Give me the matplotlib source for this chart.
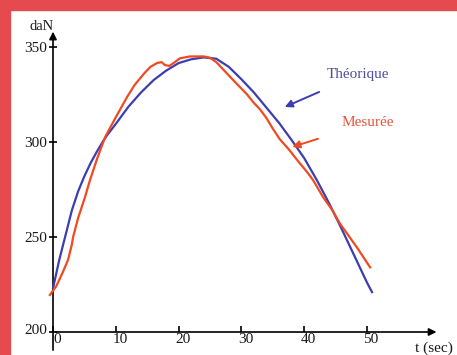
import numpy as np
import matplotlib
matplotlib.use("Agg")
import matplotlib.pyplot as plt
import matplotlib.transforms as mtransforms
from matplotlib.patches import Rectangle

# courbe theorique (bleue)
t_theo = [0, 1, 2, 3, 4, 5, 6, 7, 8, 8.6, 10, 12, 14, 16, 18, 20, 22, 24, 26,
          28, 30, 32, 34, 36, 38, 40, 42, 44, 46, 48, 50, 50.8]
f_theo = [223, 238, 251, 264, 274, 282, 289, 295, 300.5, 303.5, 309.5, 318.5,
          326, 332.5, 337.5, 341.5, 343.5, 344.5, 343.8, 339.5, 333, 326, 318,
          310, 301, 291.5, 280, 267.5, 254, 240, 226, 221]

# courbe mesuree (rouge)
t_mes = [-0.5, 0.5, 1.5, 2.4, 3.0, 3.2, 4, 5, 5.9, 7, 8.3, 10, 11.8, 13, 14.5,
         15.5, 16.6, 17.3, 17.8, 18.5, 19.2, 20.2, 21.8, 24, 25, 26, 27, 28,
         29, 30.9, 32, 33, 34, 35, 36.1, 37.7, 39, 40.5, 41.4, 43, 44.5, 45.7,
         47, 48.5, 50.5]
f_mes = [219.5, 224, 231, 238, 246, 250, 260, 270, 280, 291, 302.6, 313, 323.7,
         330, 336, 339.5, 341.6, 342, 340.5, 340, 341.5, 344, 345, 345, 344.3,
         342, 338.5, 335, 331.5, 325, 320.5, 317, 312.5, 307, 301.5, 295.5, 290,
         284, 280, 271, 264, 257, 251, 244, 234]

xticks = [0, 10, 20, 30, 40, 50]
yticks = [200, 250, 300, 350]

BLUE = "#3d3db2"
RED = "#f04a20"

plt.rcParams['font.family'] = ['Liberation Serif', 'DejaVu Serif']

fig = plt.figure(figsize=(4.57, 3.55), dpi=100)
fig.patch.set_facecolor("white")
# bordure rouge (gauche et haut)
fig.patches.append(Rectangle((0, 0), 10/457, 1, transform=fig.transFigure,
                             color="#e54a4e", zorder=-1))
fig.patches.append(Rectangle((0, 345/355), 1, 10/355, transform=fig.transFigure,
                             color="#e54a4e", zorder=-1))

ax = fig.add_axes([0, 0, 1, 1])
ax.patch.set_alpha(0)
ax.set_xlim(-8.44, 64.33)
ax.set_ylim(187.9, 374.7)

for s in ax.spines.values():
    s.set_visible(False)
ax.spines['left'].set_position(('data', 0))
ax.spines['bottom'].set_position(('data', 200))

# axes avec fleches
ax.annotate('', xy=(61.5, 200), xytext=(0, 200),
            arrowprops=dict(arrowstyle='-|>', color='black', lw=1.2, mutation_scale=11))
ax.annotate('', xy=(0, 359.5), xytext=(0, 189),
            arrowprops=dict(arrowstyle='-|>', color='black', lw=1.2, mutation_scale=11))

ax.set_xticks(xticks)
ax.set_yticks(yticks)
ax.tick_params(axis='x', direction='in', length=4, width=1.2, pad=1,
               labelsize=11, labelcolor='#1a1a1a')
ax.tick_params(axis='y', direction='inout', length=6, width=1.2, pad=1,
               labelsize=11, labelcolor='#1a1a1a')

# petit decalage des etiquettes x vers la droite
shift = mtransforms.ScaledTranslation(4/100, 0, fig.dpi_scale_trans)
for lab in ax.get_xticklabels():
    lab.set_transform(lab.get_transform() + shift)
lift = mtransforms.ScaledTranslation(0, 3/100, fig.dpi_scale_trans)
ylabs = ax.get_yticklabels()
ylabs[0].set_transform(ylabs[0].get_transform() + lift)

ax.plot(t_theo, f_theo, color=BLUE, lw=1.6, zorder=3)
ax.plot(t_mes, f_mes, color=RED, lw=1.6, zorder=4)

ax.text(-1.75, 361, "daN", fontsize=10.5, ha='center', va='center', color='#1a1a1a')
ax.text(60.7, 191.6, "t (sec)", fontsize=11, ha='center', va='center', color='#1a1a1a')

ax.annotate("Théorique", xy=(36.9, 318.4), xytext=(48.6, 335.3),
            fontsize=11, color="#4f4d9c", ha='center', va='center',
            arrowprops=dict(arrowstyle='-|>', color=BLUE, lw=1.4, mutation_scale=11,
                            shrinkA=14, shrinkB=0))
ax.annotate("Mesurée", xy=(38.1, 297.4), xytext=(50.2, 310),
            fontsize=11, color="#e4553a", ha='center', va='center',
            arrowprops=dict(arrowstyle='-|>', color=RED, lw=1.4, mutation_scale=11,
                            shrinkA=16, shrinkB=0))

fig.savefig("out.png", dpi=100)
